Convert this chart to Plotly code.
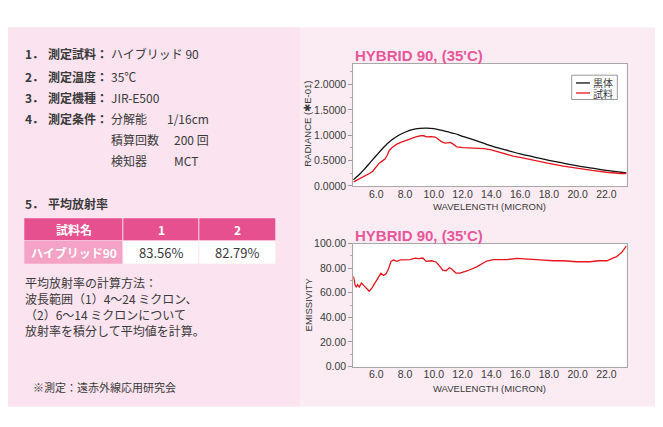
import plotly.graph_objects as go

# page is 663x427; the figure sits at the page body's 8px margin, so it is drawn 8px smaller
PAGE_W, PAGE_H = 663, 427
OFF = 8
W, H = PAGE_W - OFF, PAGE_H - OFF

# ---------------- data ----------------
wl_black = [4.4, 4.8, 5.2, 5.6, 6.0, 6.5, 7.0, 7.5, 8.0, 8.5, 9.0, 9.5, 10.0, 10.5,
            11.0, 11.5, 12.0, 13.0, 14.0, 15.0, 16.0, 17.0, 18.0, 19.0, 20.0, 21.0,
            22.0, 23.0, 23.4]
rad_black = [0.12, 0.22, 0.34, 0.47, 0.60, 0.76, 0.89, 0.99, 1.06, 1.11, 1.135, 1.14,
             1.13, 1.10, 1.065, 1.03, 0.98, 0.89, 0.79, 0.71, 0.635, 0.57, 0.505, 0.45,
             0.395, 0.35, 0.305, 0.27, 0.255]

wl_sample = [4.42, 4.7, 4.9, 5.15, 5.35, 5.55, 5.75, 6.0, 6.2, 6.4, 6.6, 6.75, 6.9, 7.1,
             7.4, 7.7, 8.0, 8.3, 8.5, 8.8, 9.1, 9.3, 9.5, 9.8, 10.1, 10.3, 10.55, 10.8,
             11.0, 11.15, 11.4, 11.6, 12.0, 12.5, 13.0, 13.5, 14.0, 14.5, 15.0, 15.5,
             16.0, 17.0, 18.0, 19.0, 20.0, 21.0, 22.0, 22.5, 23.0, 23.4]
rad_sample = [0.08, 0.12, 0.155, 0.19, 0.22, 0.25, 0.29, 0.39, 0.45, 0.49, 0.53, 0.60,
              0.70, 0.76, 0.82, 0.86, 0.895, 0.92, 0.955, 0.975, 0.99, 0.99, 0.97, 0.975,
              0.965, 0.93, 0.87, 0.845, 0.855, 0.86, 0.815, 0.77, 0.755, 0.75, 0.745,
              0.735, 0.71, 0.665, 0.625, 0.59, 0.565, 0.50, 0.445, 0.39, 0.345, 0.305,
              0.27, 0.255, 0.245, 0.245]

wl_emis = [4.42, 4.52, 4.61, 4.70, 4.82, 4.96, 5.12, 5.35, 5.51, 5.70, 5.93, 6.16, 6.32,
           6.51, 6.69, 6.86, 7.02, 7.20, 7.44, 7.67, 8.02, 8.36, 8.71, 8.94, 9.24, 9.47,
           9.86, 10.16, 10.39, 10.62, 10.85, 11.08, 11.24, 11.54, 11.82, 12.40, 12.98,
           13.68, 14.14, 15.07, 15.76, 16.46, 17.39, 18.32, 19.01, 19.94, 20.87, 21.45,
           22.03, 22.49, 22.72, 23.07, 23.40]
emissivity = [73.2, 66.5, 64.5, 66.5, 64.7, 67.9, 66.0, 63.4, 61.3, 64.0, 68.7, 72.4, 75.8,
              74.0, 75.6, 79.7, 85.5, 86.6, 85.5, 86.8, 86.6, 87.0, 88.2, 87.7, 88.2, 85.5,
              86.0, 85.0, 81.8, 78.4, 77.9, 80.3, 79.3, 76.0, 76.0, 78.1, 81.0, 85.8,
              86.9, 86.9, 87.9, 87.6, 86.8, 86.0, 86.0, 85.2, 85.2, 86.0, 86.0, 88.4,
              89.4, 92.9, 98.1]

x_ticks = [6.0, 8.0, 10.0, 12.0, 14.0, 16.0, 18.0, 20.0, 22.0]
rad_ticks = [0.0, 0.5, 1.0, 1.5, 2.0]
emis_ticks = [0, 20, 40, 60, 80, 100]

legend_names = ["黒体", "試料"]
chart_title = "HYBRID 90, (35'C)"

info_nums = ["1．", "2．", "3．", "4．"]
info_labels = ["測定試料：", "測定温度：", "測定機種：", "測定条件："]
info_values = ["ハイブリッド 90", "35℃", "JIR-E500", "分解能"]
cond_names = ["分解能", "積算回数", "検知器"]
cond_values = ["1/16cm", "200 回", "MCT"]

table_header = ["試料名", "1", "2"]
table_row = ["ハイブリッド90", "83.56%", "82.79%"]

method_lines = ["平均放射率の計算方法：", "波長範囲（1）4～24 ミクロン、",
                "（2）6～14 ミクロンについて", "放射率を積分して平均値を計算。"]
footer = "※測定：遠赤外線応用研究会"

# ---------------- helpers (page pixels -> paper fraction) ----------------
def px(x):
    return max(0.0, min(1.0, (x - OFF) / W))

def py(y):
    return max(0.0, min(1.0, 1 - (y - OFF) / H))

PINK = "#e6508f"
PINK_T = "#e8579a"
TXT = "#3a3a3a"
JP = "Noto Sans CJK JP"
LAT = "Liberation Sans, Arial, sans-serif"

fig = go.Figure()
fig.add_trace(go.Scatter(x=wl_black, y=rad_black, mode="lines", name=legend_names[0],
                         line=dict(color="#111111", width=1.3, shape="spline"),
                         xaxis="x", yaxis="y"))
fig.add_trace(go.Scatter(x=wl_sample, y=rad_sample, mode="lines", name=legend_names[1],
                         line=dict(color="#e8141e", width=1.3),
                         xaxis="x", yaxis="y"))
fig.add_trace(go.Scatter(x=wl_emis, y=emissivity, mode="lines", name="emissivity",
                         line=dict(color="#e8141e", width=1.3),
                         xaxis="x2", yaxis="y2"))

plot_l, plot_r = 353.3, 626.5
c1_top, c1_bot = 59.3, 185.0
c2_top, c2_bot = 244.3, 371.0

tickfont = dict(family=LAT, size=10.5, color=TXT)

def xax(anchor):
    return dict(domain=[px(plot_l), px(plot_r)], range=[4.4, 23.4], anchor=anchor,
                tickmode="array", tickvals=x_ticks, tickformat=".1f",
                ticks="", tickfont=tickfont, ticklabeloverflow="allow",
                ticklabelstandoff=-2,
                showline=True, mirror=True, linecolor="#a8a8a8", linewidth=1,
                showgrid=False, zeroline=False, fixedrange=True)

def yax(anchor, dom, rng, vals, fmt, minors):
    return dict(domain=dom, range=rng, anchor=anchor,
                tickmode="array", tickvals=vals, tickformat=fmt,
                ticks="outside", ticklen=4, tickcolor="#999", tickfont=tickfont,
                ticklabeloverflow="allow",
                minor=dict(tickvals=minors, ticks="outside", ticklen=2, tickcolor="#aaa"),
                showline=True, mirror=True, linecolor="#a8a8a8", linewidth=1,
                showgrid=False, zeroline=False, fixedrange=True)

fig.update_layout(
    width=W, height=H, autosize=False, margin=dict(l=0, r=0, t=0, b=0, pad=0),
    paper_bgcolor="white", plot_bgcolor="white", showlegend=False,
    xaxis=xax("y"),
    xaxis2=xax("y2"),
    yaxis=yax("x", [py(c1_bot), py(c1_top)], [0, 2.41], rad_ticks, ".4f",
              [0.25, 0.75, 1.25, 1.75, 2.25]),
    yaxis2=yax("x2", [py(c2_bot), py(c2_top)], [0, 100], emis_ticks, ".2f",
               [10, 30, 50, 70, 90]),
)

shapes = []
# backgrounds
shapes.append(dict(type="rect", xref="paper", yref="paper", x0=0, x1=1, y0=py(412), y1=py(22),
                   fillcolor="#fbecf3", line=dict(width=0), layer="below"))
shapes.append(dict(type="rect", xref="paper", yref="paper", x0=0, x1=px(300), y0=py(412), y1=py(22),
                   fillcolor="#fbe4ef", line=dict(width=0), layer="below"))
for t, b in [(c1_top, c1_bot), (c2_top, c2_bot)]:
    shapes.append(dict(type="rect", xref="paper", yref="paper", x0=px(plot_l), x1=px(plot_r),
                       y0=py(b), y1=py(t), fillcolor="white", line=dict(width=0), layer="below"))

# table
col_x = [24.3, 123.3, 199.3, 275.3]
row_y = [218.3, 241.3, 265.0]
for i in range(3):
    shapes.append(dict(type="rect", xref="paper", yref="paper",
                       x0=px(col_x[i]), x1=px(col_x[i + 1] - (1 if i < 2 else 0)),
                       y0=py(row_y[1] - 0.5), y1=py(row_y[0]),
                       fillcolor=PINK, line=dict(width=0), layer="below"))
    shapes.append(dict(type="rect", xref="paper", yref="paper",
                       x0=px(col_x[i]), x1=px(col_x[i + 1] - (1 if i < 2 else 0)),
                       y0=py(row_y[2]), y1=py(row_y[1] + 0.5),
                       fillcolor="#f4a3c6" if i == 0 else "white",
                       line=dict(width=0), layer="below"))

# legend box
lg_l, lg_r, lg_t, lg_b = 571.7, 617.3, 71.0, 96.0
shapes.append(dict(type="rect", xref="paper", yref="paper", x0=px(lg_l), x1=px(lg_r),
                   y0=py(lg_b), y1=py(lg_t), fillcolor="white",
                   line=dict(color="#999", width=1)))
shapes.append(dict(type="line", xref="paper", yref="paper", x0=px(576), x1=px(590),
                   y0=py(79), y1=py(79), line=dict(color="#111111", width=1.3)))
shapes.append(dict(type="line", xref="paper", yref="paper", x0=px(576), x1=px(590),
                   y0=py(89.3), y1=py(89.3), line=dict(color="#e8141e", width=1.3)))

fig.update_layout(shapes=shapes)

ann = []

def text(x, y, s, size=12, bold=False, color=TXT, family=JP, xanchor="left", angle=0):
    if bold:
        s = "<b>" + s + "</b>"
    ann.append(dict(xref="paper", yref="paper", x=px(x), y=py(y), text=s, showarrow=False,
                    xanchor=xanchor, yanchor="middle", textangle=angle,
                    borderpad=0, font=dict(family=family, size=size, color=color)))

# legend text
text(592, 78.3, legend_names[0], size=10)
text(592, 89.7, legend_names[1], size=10)

# chart titles
text(353.5, 51, chart_title, size=15, bold=True, color=PINK_T, family=LAT)
text(353.5, 236, chart_title, size=15, bold=True, color=PINK_T, family=LAT)

# axis titles
axfont = 9.5
text(489.5, 206.5, "WAVELENGTH (MICRON)", size=axfont, family=LAT, xanchor="center")
text(489.5, 393.5, "WAVELENGTH (MICRON)", size=axfont, family=LAT, xanchor="center")
text(308, 121, "RADIANCE (✱E-01)", size=axfont, family=LAT, xanchor="center", angle=-90)
text(308, 307, "EMISSIVITY", size=axfont, family=LAT, xanchor="center", angle=-90)

# info block
info_y = [48.5, 72, 94, 116]
for i in range(4):
    text(24, info_y[i], info_nums[i], bold=True)
    text(47, info_y[i], info_labels[i], bold=True)
    text(110, info_y[i], info_values[i] if i < 3 else cond_names[0])
text(166, 116, cond_values[0])
text(110, 137.5, cond_names[1])
text(173, 137.5, cond_values[1])
text(110, 158.5, cond_names[2])
text(173, 158.5, cond_values[2])

text(24, 203, "5．", bold=True)
text(47, 203, "平均放射率", bold=True)

# table text
for i in range(3):
    cx = (col_x[i] + col_x[i + 1]) / 2
    text(cx, 230, table_header[i], size=12, bold=True, color="white", xanchor="center")
    if i == 0:
        text(cx, 253.5, table_row[i], size=12, bold=True, color="white", xanchor="center")
    else:
        text(cx, 253.5, table_row[i], size=13, color=TXT, xanchor="center")

method_y = [284.5, 301, 317.5, 334]
for s, y in zip(method_lines, method_y):
    text(24, y, s, size=12)

text(32, 392, footer, size=11)

fig.update_layout(annotations=ann)

fig.write_html("out.html")
